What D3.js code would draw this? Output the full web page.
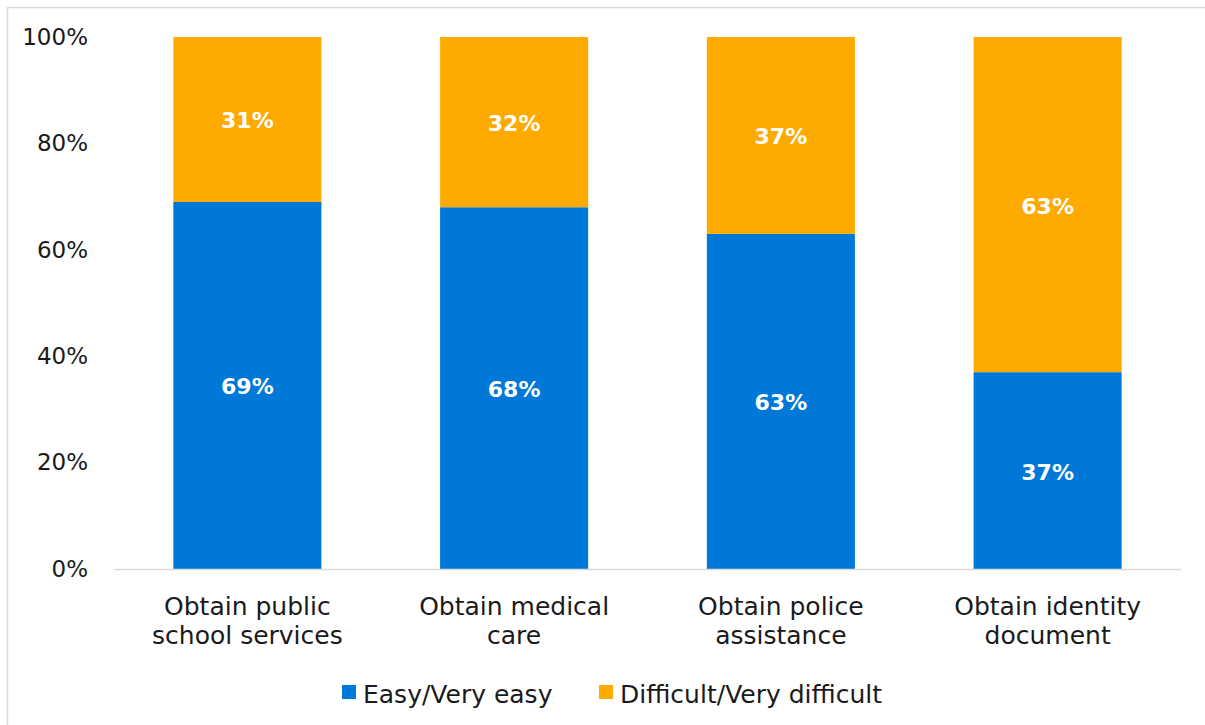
<!DOCTYPE html>
<html>
<head>
<meta charset="utf-8">
<script src="https://cdn.jsdelivr.net/npm/d3@7"></script>
<style>
  html, body { margin: 0; padding: 0; background: #fff; overflow: hidden; }
  svg text { font-family: "DejaVu Sans", "Noto Sans", sans-serif; }
</style>
</head>
<body>
<svg id="chart" width="1205" height="725"></svg>
<script>
// Share of respondents by ease of access to each service
const categories = [
  ["Obtain public", "school services"],
  ["Obtain medical", "care"],
  ["Obtain police", "assistance"],
  ["Obtain identity", "document"]
];
const easyValues = [69, 68, 63, 37];
const difficultValues = [31, 32, 37, 63];
const seriesNames = ["Easy/Very easy", "Difficult/Very difficult"];
const seriesColors = ["#0078d7", "#ffaa00"];
const yTicks = [0, 20, 40, 60, 80, 100];

const svg = d3.select("#chart");
const W = 1205, H = 725;
const margin = { left: 114, right: 24, top: 37, bottom: 156 };

// Outer chart frame (extends past the right and bottom edges)
svg.append("rect")
  .attr("x", 7.5).attr("y", 7.5)
  .attr("width", W + 50).attr("height", H + 50)
  .attr("fill", "none").attr("stroke", "#d9d9d9").attr("stroke-width", 1.5);

const x = d3.scaleBand()
  .domain(d3.range(categories.length))
  .range([margin.left, W - margin.right])
  .paddingInner(0.445).paddingOuter(0.2225);

const y = d3.scaleLinear().domain([0, 100]).range([H - margin.bottom, margin.top]);

// Y axis labels (no axis line)
const yAxis = d3.axisLeft(y).tickValues(yTicks).tickFormat(d => d + "%").tickSize(0).tickPadding(0);
const gy = svg.append("g").attr("transform", `translate(${margin.left - 26},0)`).call(yAxis);
gy.select(".domain").remove();
gy.selectAll("text")
  .attr("font-size", 23).attr("fill", "#1a1a1a")
  .style("font-family", '"DejaVu Sans", sans-serif');

// Stacked data
const rows = categories.map((c, i) => ({ i, easy: easyValues[i], difficult: difficultValues[i] }));
const stack = d3.stack().keys(["easy", "difficult"]);
const layers = stack(rows);

const gBars = svg.append("g");
layers.forEach((layer, li) => {
  gBars.selectAll(null).data(layer).enter().append("rect")
    .attr("x", d => x(d.data.i))
    .attr("width", x.bandwidth())
    .attr("y", d => y(d[1]))
    .attr("height", d => y(d[0]) - y(d[1]))
    .attr("fill", seriesColors[li]);
});

// X baseline
svg.append("line")
  .attr("x1", margin.left).attr("x2", W - margin.right)
  .attr("y1", y(0) + 0.5).attr("y2", y(0) + 0.5)
  .attr("stroke", "#d9d9d9").attr("stroke-width", 1.5);

// Value labels centered in each segment
layers.forEach(layer => {
  svg.selectAll(null).data(layer).enter().append("text")
    .attr("x", d => x(d.data.i) + x.bandwidth() / 2)
    .attr("y", d => (y(d[0]) + y(d[1])) / 2 + 1)
    .attr("dy", "0.36em")
    .attr("text-anchor", "middle")
    .attr("fill", "#fff")
    .attr("font-weight", "bold")
    .attr("font-size", 22)
    .text(d => (d[1] - d[0]) + "%");
});

// Category labels on two lines
const gx = svg.append("g");
categories.forEach((lines, i) => {
  const cx = x(i) + x.bandwidth() / 2;
  const t = gx.append("text")
    .attr("x", cx)
    .attr("y", 615)
    .attr("text-anchor", "middle")
    .attr("font-size", 25)
    .attr("fill", "#1a1a1a");
  lines.forEach((ln, k) => {
    t.append("tspan").attr("x", cx).attr("dy", k === 0 ? 0 : 29).text(ln);
  });
});

// Legend
const legend = svg.append("g");
const legendItems = [
  { name: seriesNames[0], color: seriesColors[0], x: 342 },
  { name: seriesNames[1], color: seriesColors[1], x: 599 }
];
legendItems.forEach(it => {
  legend.append("rect").attr("x", it.x).attr("y", 685).attr("width", 14).attr("height", 14).attr("fill", it.color);
  legend.append("text").attr("x", it.x + 21).attr("y", 703)
    .attr("font-size", 25).attr("fill", "#1a1a1a").text(it.name);
});
</script>
</body>
</html>
